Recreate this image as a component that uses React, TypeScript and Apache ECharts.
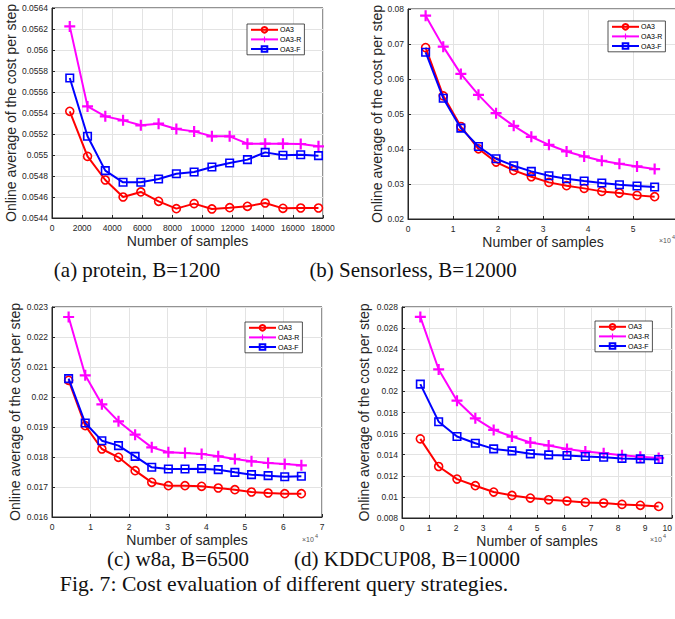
import React, { useEffect, useRef } from "react";
import * as echarts from "echarts";

// ---------- data ----------
const seriesNames = ["OA3", "OA3-R", "OA3-F"];

// (a) protein, B=1200
const xA = [1180, 2360, 3540, 4720, 5900, 7080, 8260, 9440, 10620, 11800, 12980, 14160, 15340, 16520, 17700];
const aOA3 = [0.055416, 0.054987, 0.054762, 0.0546, 0.054648, 0.054559, 0.054489, 0.054537, 0.054486, 0.054498, 0.054511, 0.054543, 0.054492, 0.054495, 0.054495];
const aOA3R = [0.056225, 0.055463, 0.055368, 0.05533, 0.055283, 0.055298, 0.055248, 0.055225, 0.055178, 0.055178, 0.055108, 0.055108, 0.055108, 0.055105, 0.055083];
const aOA3F = [0.055733, 0.055178, 0.054851, 0.05474, 0.05474, 0.054771, 0.054822, 0.054838, 0.054886, 0.054924, 0.054956, 0.055025, 0.054997, 0.055003, 0.054994];

// (b) Sensorless, B=12000
const xB = [3915, 7830, 11745, 15660, 19575, 23490, 27405, 31320, 35235, 39150, 43065, 46980, 50895, 54810];
const bOA3 = [0.06897, 0.05518, 0.04643, 0.04006, 0.03626, 0.03388, 0.03208, 0.03046, 0.02951, 0.02875, 0.02789, 0.02742, 0.02675, 0.02637];
const bOA3R = [0.0781, 0.06925, 0.06146, 0.05547, 0.05024, 0.04662, 0.04349, 0.0412, 0.0393, 0.03788, 0.03664, 0.03578, 0.03502, 0.03426];
const bOA3F = [0.06764, 0.05452, 0.04596, 0.04073, 0.03721, 0.03521, 0.0336, 0.03236, 0.0315, 0.03084, 0.03027, 0.02979, 0.02941, 0.02913];

// (c) w8a, B=6500
const xC = [4310, 8620, 12930, 17240, 21550, 25860, 30170, 34480, 38790, 43100, 47410, 51720, 56030, 60340, 64650];
const cOA3 = [0.020556, 0.019044, 0.018267, 0.017989, 0.017544, 0.017156, 0.017044, 0.017044, 0.017022, 0.016967, 0.016911, 0.016833, 0.0168, 0.016778, 0.016778];
const cOA3R = [0.022667, 0.020722, 0.019756, 0.019189, 0.018744, 0.018322, 0.018156, 0.018133, 0.0181, 0.018022, 0.017933, 0.017856, 0.0178, 0.017767, 0.017722];
const cOA3F = [0.020611, 0.019133, 0.018544, 0.018378, 0.018022, 0.017656, 0.0176, 0.0176, 0.017611, 0.017578, 0.017489, 0.017411, 0.017378, 0.017344, 0.017356];

// (d) KDDCUP08, B=10000
const xD = [6790, 13580, 20370, 27160, 33950, 40740, 47530, 54320, 61110, 67900, 74690, 81480, 88270, 95060];
const dOA3 = [0.0155, 0.01288, 0.01169, 0.01106, 0.01046, 0.01014, 0.00989, 0.00973, 0.00961, 0.00948, 0.00942, 0.00929, 0.0092, 0.0091];
const dOA3R = [0.02706, 0.02208, 0.01912, 0.01745, 0.01635, 0.01572, 0.01515, 0.01487, 0.01455, 0.0143, 0.01414, 0.01395, 0.0138, 0.01368];
const dOA3F = [0.02069, 0.01713, 0.01572, 0.01509, 0.01455, 0.01436, 0.01408, 0.01398, 0.01392, 0.01383, 0.01376, 0.01365, 0.0136, 0.01355];

const captions = ["(a) protein, B=1200", "(b) Sensorless, B=12000", "(c) w8a, B=6500", "(d) KDDCUP08, B=10000"];
const figCaption = "Fig. 7: Cost evaluation of different query strategies.";
const xName = "Number of samples";
const yName = "Online average of the cost per step";

// ---------- styling ----------
const SANS = "Liberation Sans, Arial, sans-serif";
const SERIF = "Liberation Serif, Times New Roman, serif";
const AX = "#262626";
const COLORS = ["#ff0000", "#ff00ff", "#0000ff"];
const PLUS = "path://M4,0h2v4h4v2h-4v4h-2v-4h-4v-2h4z";

type PanelCfg = {
  grid: { left: number; top: number; width: number; height: number };
  x: number[];
  ys: number[][];
  xMax: number;
  xInt: number;
  xDiv: number;
  xHideMax?: boolean;
  xAlignMaxRight?: boolean;
  yMin: number;
  yMax: number;
  yInt: number;
  yDec: number;
  yGap: number;
  legend: { left: number; top: number };
};

const panels: PanelCfg[] = [
  {
    grid: { left: 52, top: 8, width: 271, height: 210 },
    x: xA, ys: [aOA3, aOA3R, aOA3F], xMax: 18000, xInt: 2000, xDiv: 1,
    yMin: 0.0544, yMax: 0.0564, yInt: 0.0002, yDec: 4, yGap: 34,
    legend: { left: 247, top: 24 },
  },
  {
    grid: { left: 408, top: 9, width: 270, height: 210 },
    x: xB, ys: [bOA3, bOA3R, bOA3F], xMax: 60000, xInt: 10000, xDiv: 10000, xHideMax: true,
    yMin: 0.02, yMax: 0.08, yInt: 0.01, yDec: 2, yGap: 24,
    legend: { left: 608, top: 21 },
  },
  {
    grid: { left: 52, top: 307, width: 270, height: 210 },
    x: xC, ys: [cOA3, cOA3R, cOA3F], xMax: 70000, xInt: 10000, xDiv: 10000,
    yMin: 0.016, yMax: 0.023, yInt: 0.001, yDec: 3, yGap: 30,
    legend: { left: 245, top: 322 },
  },
  {
    grid: { left: 402, top: 307, width: 270, height: 211 },
    x: xD, ys: [dOA3, dOA3R, dOA3F], xMax: 100000, xInt: 10000, xDiv: 10000, xAlignMaxRight: true,
    yMin: 0.008, yMax: 0.028, yInt: 0.002, yDec: 3, yGap: 31,
    legend: { left: 595, top: 321 },
  },
];

function buildOption() {
  const grid: any[] = [];
  const xAxis: any[] = [];
  const yAxis: any[] = [];
  const series: any[] = [];
  const legend: any[] = [];

  panels.forEach((p, i) => {
    grid.push({
      ...p.grid,
      show: true,
      borderColor: AX,
      borderWidth: 1,
      backgroundColor: "#fff",
      outerBoundsMode: "none",
    });
    xAxis.push({
      type: "value",
      gridIndex: i,
      min: 0,
      max: p.xMax,
      interval: p.xInt,
      name: xName,
      nameLocation: "middle",
      nameGap: 16,
      nameTextStyle: { fontFamily: SANS, fontSize: 14, color: AX },
      axisLine: { show: true, lineStyle: { color: AX, width: 1 } },
      axisTick: { show: true, inside: true, length: 3, lineStyle: { color: AX } },
      splitLine: { show: true, lineStyle: { color: "#e3e3e3", width: 1 } },
      axisLabel: {
        fontFamily: SANS,
        fontSize: 8.5,
        color: AX,
        margin: 5,
        alignMaxLabel: p.xAlignMaxRight ? "right" : undefined,
        formatter: (v: number) => {
          if (p.xHideMax && v >= p.xMax) return "";
          return String(Math.round((v / p.xDiv) * 1000) / 1000);
        },
      },
    });
    yAxis.push({
      type: "value",
      gridIndex: i,
      min: p.yMin,
      max: p.yMax,
      interval: p.yInt,
      name: yName,
      nameLocation: "middle",
      nameGap: p.yGap,
      nameTextStyle: { fontFamily: SANS, fontSize: 14, color: AX },
      axisLine: { show: true, lineStyle: { color: AX, width: 1 } },
      axisTick: { show: true, inside: true, length: 3, lineStyle: { color: AX } },
      splitLine: { show: true, lineStyle: { color: "#e3e3e3", width: 1 } },
      axisLabel: {
        fontFamily: SANS,
        fontSize: 8.5,
        color: AX,
        margin: 4,
        formatter: (v: number) => String(Number(v.toFixed(p.yDec))),
      },
    });
    p.ys.forEach((ys, k) => {
      const isPlus = k === 1;
      series.push({
        type: "line",
        name: seriesNames[k],
        xAxisIndex: i,
        yAxisIndex: i,
        data: p.x.map((xv, j) => [xv, ys[j]]),
        symbol: k === 0 ? "circle" : k === 1 ? PLUS : "rect",
        symbolSize: isPlus ? 11 : k === 0 ? 8 : 7.5,
        showSymbol: true,
        lineStyle: { color: COLORS[k], width: 2 },
        itemStyle: isPlus
          ? { color: COLORS[k], borderWidth: 0 }
          : { color: "rgba(255,255,255,0)", borderColor: COLORS[k], borderWidth: 1.6 },
        emphasis: { disabled: true },
        z: k === 2 ? 3 : 2,
      });
    });
    legend.push({
      show: true,
      orient: "vertical",
      left: p.legend.left,
      top: p.legend.top,
      data: seriesNames,
      itemWidth: 27,
      itemHeight: 7,
      itemGap: 2.3,
      padding: [2, 3, 2, 3],
      backgroundColor: "#fff",
      borderColor: AX,
      borderWidth: 0.8,
      borderRadius: 0,
      selectedMode: false,
      textStyle: { fontFamily: SANS, fontSize: 7, color: "#000", padding: [0, 0, 0, -3] },
    });
  });

  const exp = (x: number, y: number) => [
    { type: "text", left: x, top: y, style: { text: "×10", fontFamily: SANS, fontSize: 7, fill: "#555" } },
    { type: "text", left: x + 13, top: y - 3, style: { text: "4", fontFamily: SANS, fontSize: 5.5, fill: "#555" } },
  ];

  const capText = (text: string, cx: number, cy: number, size: number) => ({
    type: "text",
    x: cx,
    y: cy,
    style: {
      text,
      fontFamily: SERIF,
      fontSize: size,
      fill: "#111",
      align: "center",
      verticalAlign: "middle",
    },
  });

  const graphic: any[] = [
    ...exp(659, 237),
    ...exp(302, 536),
    ...exp(650, 536),
    capText(captions[0], 137, 270, 21),
    capText(captions[1], 413, 270, 21),
    capText(captions[2], 178, 559, 21),
    capText(captions[3], 407, 559, 21),
    capText(figCaption, 284, 584, 21.7),
  ];

  return {
    animation: false,
    backgroundColor: "#fff",
    grid,
    xAxis,
    yAxis,
    series,
    legend,
    graphic,
  };
}

export default function App() {
  const ref = useRef<HTMLDivElement>(null);
  useEffect(() => {
    if (!ref.current) return;
    const chart = echarts.init(ref.current, undefined, { renderer: "svg" });
    chart.setOption(buildOption() as any);
    return () => chart.dispose();
  }, []);
  return (
    <div
      ref={ref}
      style={{ position: "absolute", left: 0, top: 0, width: 675, height: 619, background: "#fff" }}
    />
  );
}
